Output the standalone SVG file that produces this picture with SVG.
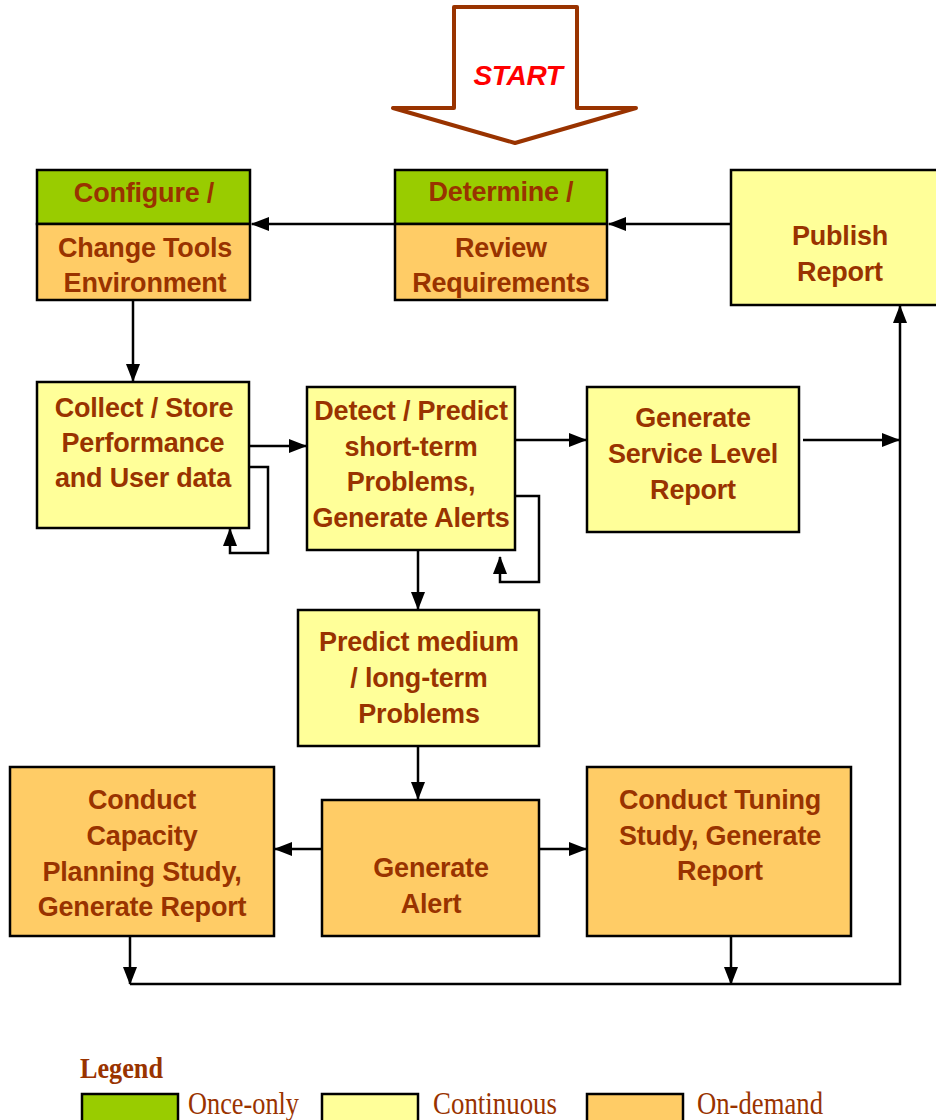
<svg xmlns="http://www.w3.org/2000/svg" width="936" height="1120" viewBox="0 0 936 1120">
<defs>
<marker id="ah" markerUnits="userSpaceOnUse" markerWidth="18" markerHeight="16" refX="17" refY="8" orient="auto">
<path d="M0,1 L18,8 L0,15 Z" fill="#000"/>
</marker>
<style>
.box{stroke:#000;stroke-width:2.5}
.g{fill:#99CC00}.y{fill:#FFFF99}.o{fill:#FFCC66}
.t{font-family:"Liberation Sans",Arial,sans-serif;font-weight:bold;font-size:27px;fill:#993300;text-anchor:middle;letter-spacing:-0.2px}
.c{fill:none;stroke:#000;stroke-width:2.5}
.a{marker-end:url(#ah)}
.lg{font-family:"Liberation Serif","Times New Roman",serif;fill:#993300;font-size:32px}
</style>
</defs>
<rect width="936" height="1120" fill="#fff"/>

<g id="start">
<path d="M454,7 L577,7 L577,108 L636,108 L515,143 L393,108 L454,108 Z" fill="#fff" stroke="#993300" stroke-width="4" stroke-linejoin="round"/>
<text x="518" y="85" font-family="Liberation Sans,Arial,sans-serif" font-weight="bold" font-style="italic" font-size="28" fill="#FF0000" text-anchor="middle" letter-spacing="-0.3">START</text>
</g>

<g id="connectors">
<line class="c a" x1="731" y1="224" x2="609" y2="224"/>
<line class="c a" x1="395" y1="224" x2="252" y2="224"/>
<line class="c a" x1="133" y1="300" x2="133" y2="381"/>
<line class="c a" x1="249" y1="446" x2="306" y2="446"/>
<polyline class="c a" points="249,467 268,467 268,553 230,553 230,529"/>
<polyline class="c a" points="515,496 539,496 539,582 500,582 500,557"/>
<line class="c a" x1="515" y1="440" x2="586" y2="440"/>
<line class="c a" x1="803" y1="440" x2="899" y2="440"/>
<line class="c a" x1="418" y1="550" x2="418" y2="609"/>
<line class="c a" x1="418" y1="746" x2="418" y2="799"/>
<line class="c a" x1="322" y1="849" x2="275" y2="849"/>
<line class="c a" x1="539" y1="849" x2="586" y2="849"/>
<line class="c a" x1="130" y1="936" x2="130" y2="984"/>
<line class="c a" x1="731" y1="930" x2="731" y2="984"/>
<polyline class="c a" points="130,984 900,984 900,306"/>
</g>

<g id="configure">
<rect class="box g" x="37" y="170" width="213" height="54"/>
<rect class="box o" x="37" y="224" width="213" height="76"/>
<text class="t" x="144" y="202">Configure /</text>
<text class="t" x="145" y="257">Change Tools</text>
<text class="t" x="145" y="292">Environment</text>
</g>

<g id="determine">
<rect class="box g" x="395" y="170" width="212" height="54"/>
<rect class="box o" x="395" y="224" width="212" height="76"/>
<text class="t" x="501" y="201">Determine /</text>
<text class="t" x="501" y="257">Review</text>
<text class="t" x="501" y="292">Requirements</text>
</g>

<g id="publish">
<rect class="box y" x="731" y="170" width="210" height="135"/>
<text class="t" x="840" y="245">Publish</text>
<text class="t" x="840" y="281">Report</text>
</g>

<g id="collect">
<rect class="box y" x="37" y="382" width="212" height="146"/>
<text class="t" x="144" y="417">Collect / Store</text>
<text class="t" x="143" y="452">Performance</text>
<text class="t" x="143" y="487">and User data</text>
</g>

<g id="detect">
<rect class="box y" x="307" y="387" width="208" height="163"/>
<text class="t" x="411" y="420">Detect / Predict</text>
<text class="t" x="411" y="456">short-term</text>
<text class="t" x="411" y="491">Problems,</text>
<text class="t" x="411" y="527">Generate Alerts</text>
</g>

<g id="slr">
<rect class="box y" x="587" y="387" width="212" height="145"/>
<text class="t" x="693" y="427">Generate</text>
<text class="t" x="693" y="463">Service Level</text>
<text class="t" x="693" y="499">Report</text>
</g>

<g id="predict">
<rect class="box y" x="298" y="610" width="241" height="136"/>
<text class="t" x="419" y="651">Predict medium</text>
<text class="t" x="419" y="687">/ long-term</text>
<text class="t" x="419" y="723">Problems</text>
</g>

<g id="alert">
<rect class="box o" x="322" y="800" width="217" height="136"/>
<text class="t" x="431" y="877">Generate</text>
<text class="t" x="431" y="913">Alert</text>
</g>

<g id="capacity">
<rect class="box o" x="10" y="767" width="264" height="169"/>
<text class="t" x="142" y="809">Conduct</text>
<text class="t" x="142" y="845">Capacity</text>
<text class="t" x="142" y="881">Planning Study,</text>
<text class="t" x="142" y="916">Generate Report</text>
</g>

<g id="tuning">
<rect class="box o" x="587" y="767" width="264" height="169"/>
<text class="t" x="720" y="809">Conduct Tuning</text>
<text class="t" x="720" y="845">Study, Generate</text>
<text class="t" x="720" y="880">Report</text>
</g>

<g id="legend">
<text x="80" y="1078" font-family="Liberation Serif,Times New Roman,serif" font-weight="bold" font-size="29" fill="#993300" textLength="83" lengthAdjust="spacingAndGlyphs">Legend</text>
<rect class="box g" x="82" y="1094" width="96" height="30"/>
<text class="lg" x="188" y="1114" textLength="111" lengthAdjust="spacingAndGlyphs">Once-only</text>
<rect class="box y" x="322" y="1094" width="96" height="30"/>
<text class="lg" x="433" y="1114" textLength="124" lengthAdjust="spacingAndGlyphs">Continuous</text>
<rect class="box o" x="587" y="1094" width="96" height="30"/>
<text class="lg" x="697" y="1114" textLength="126" lengthAdjust="spacingAndGlyphs">On-demand</text>
</g>
</svg>
